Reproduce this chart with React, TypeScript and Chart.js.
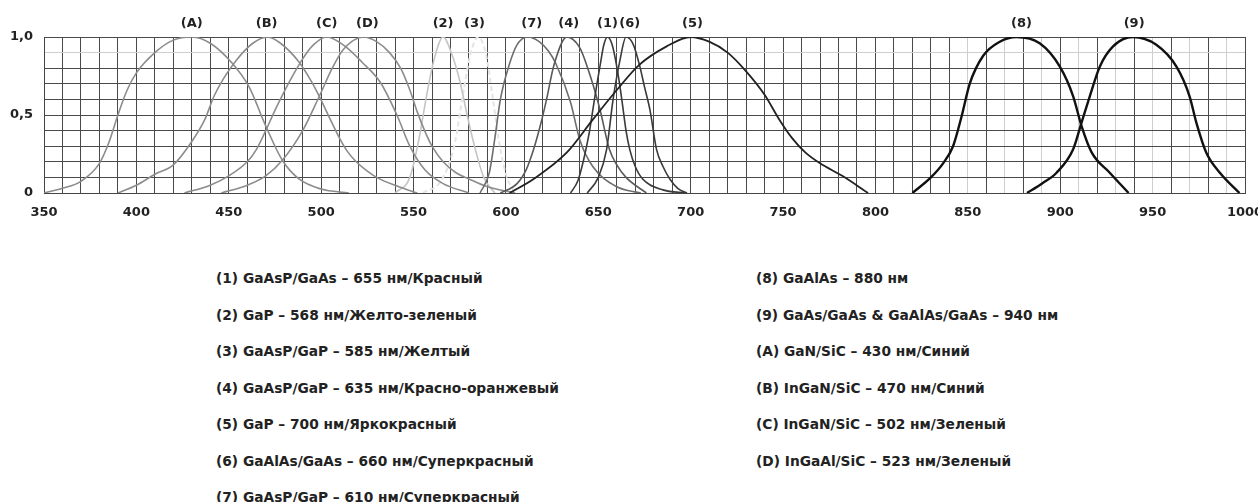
import React, { useEffect, useRef } from 'react';
import { Chart, registerables } from 'chart.js';

Chart.register(...registerables);

// ---- Data (wavelength in nm, relative intensity) ----
const A_nm = [350, 360, 370, 380, 385, 390, 395, 400, 410, 420, 430, 440, 452, 461, 470, 479, 488, 500, 515];
const A_val = [0, 0.03, 0.075, 0.19, 0.32, 0.5, 0.66, 0.77, 0.9, 0.98, 1.0, 0.96, 0.83, 0.68, 0.43, 0.21, 0.09, 0.025, 0];

const B_nm = [390, 400, 410, 420, 430, 437, 442, 447, 454, 463, 471, 478, 488, 494, 499, 505, 510, 514, 519, 525, 530, 542, 552];
const B_val = [0, 0.05, 0.12, 0.18, 0.33, 0.47, 0.62, 0.73, 0.85, 0.96, 1.0, 0.96, 0.84, 0.73, 0.62, 0.47, 0.35, 0.27, 0.2, 0.14, 0.1, 0.04, 0];

const C_nm = [426, 440, 450, 460, 465, 470, 475, 480, 485, 490, 495, 503, 513, 522, 532, 541, 548, 556, 566, 580];
const C_val = [0, 0.05, 0.11, 0.2, 0.28, 0.4, 0.53, 0.65, 0.76, 0.86, 0.94, 1.0, 0.94, 0.84, 0.71, 0.5, 0.3, 0.15, 0.06, 0];

const D_nm = [446, 460, 470, 479, 490, 499, 506, 512, 523, 530, 537, 543, 548, 552, 556, 560, 566, 573, 580, 590, 605];
const D_val = [0, 0.05, 0.11, 0.21, 0.4, 0.62, 0.8, 0.92, 1.0, 0.97, 0.9, 0.8, 0.66, 0.52, 0.4, 0.3, 0.2, 0.13, 0.09, 0.04, 0];

const S2_nm = [540, 548, 553, 557, 561, 566, 571, 575, 579, 583, 588, 594];
const S2_val = [0, 0.1, 0.35, 0.62, 0.85, 1.0, 0.88, 0.72, 0.5, 0.3, 0.1, 0];

const S3_nm = [555, 565, 572, 577, 581, 585, 589, 593, 596, 600, 605];
const S3_val = [0, 0.08, 0.3, 0.65, 0.9, 1.0, 0.9, 0.6, 0.35, 0.12, 0];

const S7_nm = [586, 591, 594, 597, 602, 606, 612, 618, 623, 627, 635, 640, 647, 660, 673];
const S7_val = [0, 0.13, 0.35, 0.6, 0.83, 0.95, 1.0, 0.97, 0.91, 0.83, 0.58, 0.34, 0.17, 0.04, 0];

const S4_nm = [597, 606, 611, 615, 619, 622, 626, 633, 640, 644, 648, 651, 656, 660, 665, 676];
const S4_val = [0, 0.06, 0.15, 0.28, 0.45, 0.6, 0.82, 1.0, 0.93, 0.81, 0.66, 0.53, 0.28, 0.18, 0.1, 0];

const S1_nm = [635, 639, 642, 645, 647, 649, 651, 653, 655, 657.5, 660, 662, 663.5, 665, 667, 670, 674, 685, 698];
const S1_val = [0, 0.08, 0.21, 0.38, 0.53, 0.68, 0.82, 0.95, 1.0, 0.95, 0.81, 0.66, 0.53, 0.4, 0.28, 0.17, 0.09, 0.02, 0];

const S6_nm = [644, 650, 654.5, 658, 661.7, 665, 669, 672.5, 675, 678, 681.5, 685, 688.7, 693, 698];
const S6_val = [0, 0.1, 0.28, 0.6, 0.85, 1.0, 0.95, 0.81, 0.68, 0.53, 0.28, 0.17, 0.09, 0.03, 0];

const S5_nm = [602, 615, 633, 647, 660, 672, 687, 700, 710, 720, 730, 740, 748, 755, 762, 770, 782, 796];
const S5_val = [0, 0.09, 0.26, 0.47, 0.66, 0.82, 0.94, 1.0, 0.97, 0.9, 0.78, 0.63, 0.47, 0.35, 0.26, 0.19, 0.11, 0];

const S8_nm = [820, 830, 836.6, 842, 846.6, 851, 858.3, 867.3, 876.3, 888.9, 899.8, 907, 911.5, 917, 926.8, 937];
const S8_val = [0, 0.1, 0.19, 0.3, 0.49, 0.7, 0.88, 0.97, 1.0, 0.96, 0.81, 0.62, 0.43, 0.26, 0.13, 0];

const S9_nm = [882, 890, 898, 907, 911.5, 916, 921.4, 928.6, 939.4, 952, 962.9, 970, 973.7, 979, 986.4, 997];
const S9_val = [0, 0.06, 0.13, 0.28, 0.45, 0.62, 0.81, 0.94, 1.0, 0.95, 0.81, 0.62, 0.45, 0.26, 0.13, 0];

// Peak labels above the plot
const peakLabels = ['(A)', '(B)', '(C)', '(D)', '(2)', '(3)', '(7)', '(4)', '(1)', '(6)', '(5)', '(8)', '(9)'];
const peakLabelNm = [430, 470.5, 503, 525, 566, 583, 614, 634, 655, 667, 701, 879, 940];

// Axis
const xMin = 350;
const xMax = 1000;
const xStep = 10;
const xLabelEvery = 50;
const yLabels: Record<number, string> = { 0: '0', 5: '0,5', 10: '1,0' };
const lightXGrid = [850, 870, 890, 910, 930, 950, 970, 990];
const lightYGrid = [0.9];

// Legend texts
const legendLeft = [
  '(1) GaAsP/GaAs – 655 нм/Красный',
  '(2) GaP – 568 нм/Желто-зеленый',
  '(3) GaAsP/GaP – 585 нм/Желтый',
  '(4) GaAsP/GaP – 635 нм/Красно-оранжевый',
  '(5) GaP – 700 нм/Яркокрасный',
  '(6) GaAlAs/GaAs – 660 нм/Суперкрасный',
  '(7) GaAsP/GaP – 610 нм/Суперкрасный',
];
const legendRight = [
  '(8) GaAlAs – 880 нм',
  '(9) GaAs/GaAs & GaAlAs/GaAs – 940 нм',
  '(A) GaN/SiC – 430 нм/Синий',
  '(B) InGaN/SiC – 470 нм/Синий',
  '(C) InGaN/SiC – 502 нм/Зеленый',
  '(D) InGaAl/SiC – 523 нм/Зеленый',
];

const FONT = '"DejaVu Sans", "Liberation Sans", Arial, sans-serif';

function pts(xs: number[], ys: number[]) {
  return xs.map((x, i) => ({ x, y: ys[i] }));
}

const seriesDefs = [
  { label: '(8)', xs: S8_nm, ys: S8_val, color: '#111111', width: 2.4 },
  { label: '(9)', xs: S9_nm, ys: S9_val, color: '#111111', width: 2.4 },
  { label: '(5)', xs: S5_nm, ys: S5_val, color: '#222222', width: 1.8 },
  { label: '(1)', xs: S1_nm, ys: S1_val, color: '#3a3a3a', width: 1.6 },
  { label: '(6)', xs: S6_nm, ys: S6_val, color: '#3a3a3a', width: 1.6 },
  { label: '(4)', xs: S4_nm, ys: S4_val, color: '#5a5a5a', width: 1.6 },
  { label: '(7)', xs: S7_nm, ys: S7_val, color: '#6e6e6e', width: 1.6 },
  { label: '(A)', xs: A_nm, ys: A_val, color: '#8c8c8c', width: 1.6 },
  { label: '(B)', xs: B_nm, ys: B_val, color: '#8c8c8c', width: 1.6 },
  { label: '(C)', xs: C_nm, ys: C_val, color: '#8c8c8c', width: 1.6 },
  { label: '(D)', xs: D_nm, ys: D_val, color: '#8c8c8c', width: 1.6 },
  { label: '(2)', xs: S2_nm, ys: S2_val, color: '#c4c4c4', width: 1.6 },
  { label: '(3)', xs: S3_nm, ys: S3_val, color: '#e4e4e4', width: 2, dash: [5, 3] },
];

const peakLabelPlugin = {
  id: 'peakLabels',
  afterDraw(chart: any) {
    const ctx = chart.ctx;
    const xs = chart.scales.x;
    ctx.save();
    ctx.font = `bold 13px ${FONT}`;
    ctx.fillStyle = '#222';
    ctx.textAlign = 'center';
    ctx.textBaseline = 'middle';
    peakLabels.forEach((t, i) => {
      ctx.fillText(t, xs.getPixelForValue(peakLabelNm[i]), chart.chartArea.top - 13);
    });
    ctx.restore();
  },
};

export default function App() {
  const ref = useRef<HTMLCanvasElement | null>(null);

  useEffect(() => {
    if (!ref.current) return;
    const chart = new Chart(ref.current, {
      type: 'line',
      data: {
        datasets: seriesDefs.map((s) => ({
          label: s.label,
          data: pts(s.xs, s.ys),
          borderColor: s.color,
          borderWidth: s.width,
          borderDash: (s as any).dash || [],
          pointRadius: 0,
          fill: false,
          cubicInterpolationMode: 'monotone' as const,
        })),
      },
      options: {
        responsive: false,
        animation: false,
        devicePixelRatio: 1,
        layout: { padding: { top: 37, right: 13, left: 0, bottom: 0 } },
        plugins: { legend: { display: false }, tooltip: { enabled: false } },
        scales: {
          x: {
            type: 'linear',
            min: xMin,
            max: xMax,
            afterFit: (s: any) => {
              s.height = 47;
              s.paddingLeft = 0;
              s.paddingRight = 0;
            },
            border: { display: true, color: '#444', width: 1 },
            grid: {
              drawTicks: false,
              lineWidth: 1,
              color: (c: any) => (lightXGrid.includes(c.tick?.value) ? '#cfcfcf' : '#4a4a4a'),
            },
            ticks: {
              stepSize: xStep,
              maxTicksLimit: 200,
              autoSkip: false,
              maxRotation: 0,
              padding: 12,
              color: '#222',
              font: { family: FONT, size: 13, weight: 'bold' },
              callback: (v: any) => (Number(v) % xLabelEvery === 0 ? String(v) : ''),
            },
          },
          y: {
            min: 0,
            max: 1,
            afterFit: (s: any) => {
              s.width = 44;
              s.paddingTop = 0;
              s.paddingBottom = 0;
            },
            border: { display: true, color: '#444', width: 1 },
            grid: {
              drawTicks: false,
              lineWidth: 1,
              color: (c: any) =>
                lightYGrid.some((g) => Math.abs(g - (c.tick?.value ?? -1)) < 1e-6) ? '#cfcfcf' : '#4a4a4a',
            },
            ticks: {
              stepSize: 0.1,
              autoSkip: false,
              padding: 11,
              color: '#222',
              font: { family: FONT, size: 13, weight: 'bold' },
              callback: (v: any) => yLabels[Math.round(Number(v) * 10)] ?? '',
            },
          },
        },
      },
      plugins: [peakLabelPlugin],
    });
    return () => chart.destroy();
  }, []);

  const colStyle = (left: number): React.CSSProperties => ({
    position: 'absolute',
    left,
    top: 260,
    fontFamily: FONT,
    fontWeight: 'bold',
    fontSize: 13.75,
    lineHeight: '36.5px',
    color: '#222',
    whiteSpace: 'nowrap',
  });

  return (
    <div style={{ position: 'absolute', left: 0, top: 0, width: 1258, height: 502, overflow: 'hidden', background: '#fff' }}>
      <canvas ref={ref} width={1258} height={240} style={{ display: 'block', width: 1258, height: 240 }} />
      <div style={colStyle(216)}>
        {legendLeft.map((t) => (
          <div key={t}>{t}</div>
        ))}
      </div>
      <div style={colStyle(756)}>
        {legendRight.map((t) => (
          <div key={t}>{t}</div>
        ))}
      </div>
    </div>
  );
}
